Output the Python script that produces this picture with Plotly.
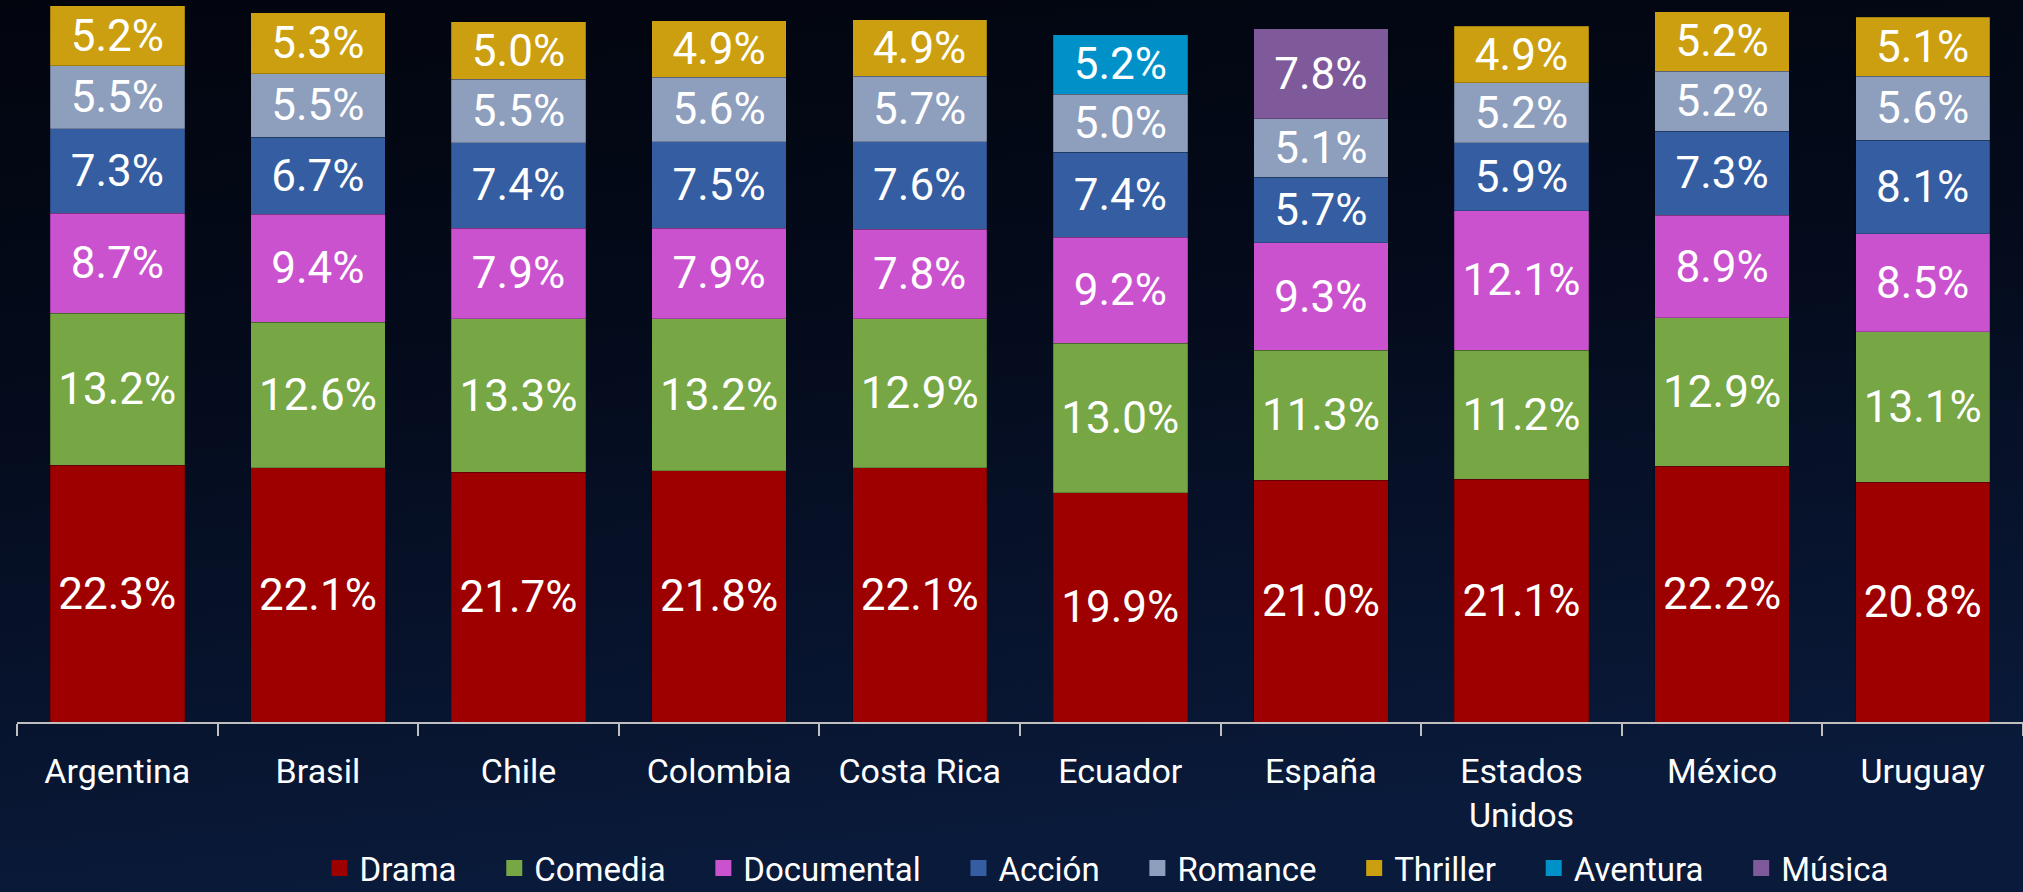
import plotly.graph_objects as go
import urllib.parse

countries = ["Argentina", "Brasil", "Chile", "Colombia", "Costa Rica", "Ecuador",
             "España", "Estados<br>Unidos", "México", "Uruguay"]

drama      = [22.3, 22.1, 21.7, 21.8, 22.1, 19.9, 21.0, 21.1, 22.2, 20.8]
comedia    = [13.2, 12.6, 13.3, 13.2, 12.9, 13.0, 11.3, 11.2, 12.9, 13.1]
documental = [8.7, 9.4, 7.9, 7.9, 7.8, 9.2, 9.3, 12.1, 8.9, 8.5]
accion     = [7.3, 6.7, 7.4, 7.5, 7.6, 7.4, 5.7, 5.9, 7.3, 8.1]
romance    = [5.5, 5.5, 5.5, 5.6, 5.7, 5.0, 5.1, 5.2, 5.2, 5.6]
thriller   = [5.2, 5.3, 5.0, 4.9, 4.9, None, None, 4.9, 5.2, 5.1]
aventura   = [None, None, None, None, None, 5.2, None, None, None, None]
musica     = [None, None, None, None, None, None, 7.8, None, None, None]

series = [
    ("Drama", drama, "#9E0000"),
    ("Comedia", comedia, "#77A645"),
    ("Documental", documental, "#CB52CF"),
    ("Acción", accion, "#355DA2"),
    ("Romance", romance, "#8E9EBD"),
    ("Thriller", thriller, "#CC9F10"),
    ("Aventura", aventura, "#0091C8"),
    ("Música", musica, "#7E5A9B"),
]

FONT = "Roboto, 'Open Sans', sans-serif"

fig = go.Figure()
for name, vals, col in series:
    fig.add_trace(go.Bar(
        name=name, x=countries, y=vals, legendgroup=name, showlegend=False,
        marker=dict(color=col, line=dict(width=0.8, color="rgba(0,0,0,0.25)")),
        text=[("%.1f%%" % v) if v is not None else "" for v in vals],
        textposition="inside", insidetextanchor="middle",
        constraintext="none",
        textfont=dict(family=FONT, size=44, color="white"),
        hoverinfo="skip",
    ))
# legend entries with larger square swatches
for name, vals, col in series:
    fig.add_trace(go.Scatter(
        name=name + "\u00a0" * 4, x=[None], y=[None], mode="markers", legendgroup=name,
        marker=dict(symbol="square", size=22, color=col),
        showlegend=True, hoverinfo="skip",
    ))

svg = ("<svg xmlns='http://www.w3.org/2000/svg' width='2023' height='892'>"
       "<defs><linearGradient id='g' x1='0' y1='0' x2='0.2' y2='1'>"
       "<stop offset='0' stop-color='#02050E'/>"
       "<stop offset='0.45' stop-color='#040B1C'/>"
       "<stop offset='1' stop-color='#0A1A3A'/>"
       "</linearGradient></defs>"
       "<rect width='2023' height='892' fill='url(#g)'/></svg>")
src = "data:image/svg+xml;charset=utf-8," + urllib.parse.quote(svg)

fig.update_layout(
    barmode="stack",
    bargap=0.33,
    width=2023, height=892,
    margin=dict(l=17, r=0, t=0, b=170, autoexpand=False),
    paper_bgcolor="#050C1F",
    plot_bgcolor="rgba(0,0,0,0)",
    font=dict(family=FONT, color="white"),
    images=[dict(source=src, xref="paper", yref="paper", x=-17/2006, y=1,
                 sizex=2023/2006, sizey=892/722, xanchor="left", yanchor="top",
                 sizing="stretch", layer="below")],
    showlegend=True,
    legend=dict(orientation="h", xref="paper", yref="paper",
                x=(1123 - 17) / 2006, xanchor="center", y=(722 - 868) / 722, yanchor="middle",
                font=dict(family=FONT, size=33, color="white"),
                traceorder="normal", itemwidth=30, itemsizing="trace",
                bgcolor="rgba(0,0,0,0)"),
)
fig.update_xaxes(
    showline=True, linecolor="#BFBFBF", linewidth=2,
    ticks="outside", tickson="boundaries", ticklen=12, tickcolor="#BFBFBF", tickwidth=2,
    tickfont=dict(family=FONT, size=34, color="white"),
    ticklabelstandoff=18, tickangle=0, automargin=False,
    showgrid=False, zeroline=False,
)
fig.update_yaxes(range=[0, 62.7], visible=False, showgrid=False, zeroline=False)

fig.write_html("out.html", config={"displayModeBar": False},
               post_script="document.body.style.margin='0';document.body.style.background='#050C1F';")
